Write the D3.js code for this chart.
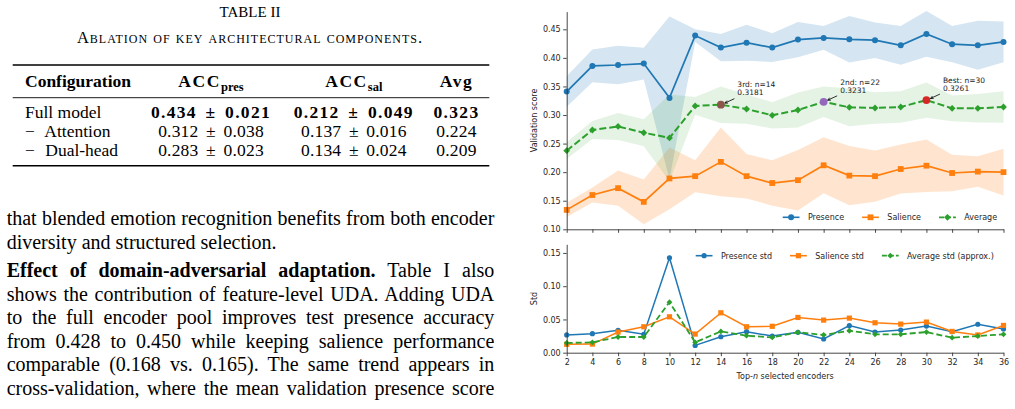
<!DOCTYPE html>
<html>
<head>
<meta charset="utf-8">
<script src="https://cdn.jsdelivr.net/npm/d3@7"></script>
<style>
  html, body { margin: 0; padding: 0; background: #fff; }
  svg { display: block; }
  text { white-space: pre; }
</style>
</head>
<body>
<svg id="page" width="1015" height="409"></svg>
<script>
// ---- figure data ----
const topN = [2, 4, 6, 8, 10, 12, 14, 16, 18, 20, 22, 24, 26, 28, 30, 32, 34, 36];
const presence = [0.341, 0.386, 0.3875, 0.390, 0.330, 0.439, 0.418, 0.4266, 0.418, 0.432, 0.435, 0.4325, 0.431, 0.422, 0.442, 0.424, 0.422, 0.428];
const salience = [0.134, 0.160, 0.172, 0.148, 0.189, 0.193, 0.218, 0.193, 0.181, 0.186, 0.212, 0.194, 0.193, 0.2055, 0.2113, 0.1985, 0.201, 0.200];
const average = [0.2376, 0.2738, 0.280, 0.269, 0.260, 0.316, 0.3181, 0.3105, 0.2995, 0.3088, 0.3231, 0.3135, 0.3123, 0.314, 0.3261, 0.3117, 0.3117, 0.314];
const presenceStd = [0.0267, 0.0286, 0.0337, 0.0277, 0.1426, 0.011, 0.024, 0.0316, 0.025, 0.0307, 0.0206, 0.0407, 0.031, 0.034, 0.040, 0.0316, 0.0428, 0.0357];
const salienceStd = [0.0126, 0.013, 0.031, 0.039, 0.054, 0.028, 0.060, 0.039, 0.0397, 0.053, 0.049, 0.052, 0.045, 0.043, 0.046, 0.032, 0.0267, 0.041];
const averageStd = [0.0146, 0.0156, 0.0236, 0.0236, 0.076, 0.0156, 0.032, 0.0256, 0.023, 0.0307, 0.0267, 0.033, 0.0277, 0.0277, 0.031, 0.0226, 0.025, 0.0277];
const highlightN = [30, 22, 14];
const highlightLabels = ['Best', '2nd', '3rd'];
const yTicksTop = [0.10, 0.15, 0.20, 0.25, 0.30, 0.35, 0.40, 0.45];
const yTicksBottom = [0.00, 0.05, 0.10, 0.15];

// ---- table II ----
const tableTitle = 'TABLE II';
const tableCaption = 'Ablation of key architectural components.';
const configs = ['Full model', '\u2212 Attention', '\u2212 Dual-head'];
const presMean = [0.434, 0.312, 0.283];
const presStd = [0.021, 0.038, 0.023];
const salMean = [0.212, 0.137, 0.134];
const salStd = [0.049, 0.016, 0.024];
const avgScore = [0.323, 0.224, 0.209];

// ---- body text, one entry per printed line ----
const bodyLines = [
  { segs: [['that blended emotion recognition benefits from both encoder', false]], justify: true },
  { segs: [['diversity and structured selection.', false]], justify: false },
  { segs: [['Effect of domain-adversarial adaptation.', true], [' Table I also', false]], justify: true, newPara: true },
  { segs: [['shows the contribution of feature-level UDA. Adding UDA', false]], justify: true },
  { segs: [['to the full encoder pool improves test presence accuracy', false]], justify: true },
  { segs: [['from 0.428 to 0.450 while keeping salience performance', false]], justify: true },
  { segs: [['comparable (0.168 vs. 0.165). The same trend appears in', false]], justify: true },
  { segs: [['cross-validation, where the mean validation presence score', false]], justify: true }
];

const svg = d3.select('#page');
const serif = 'Liberation Serif, Times New Roman, serif';
const sans = 'DejaVu Sans, sans-serif';

// ================= left column: table + text =================
svg.append('text').attr('x', 250).attr('y', 17.3).attr('text-anchor', 'middle')
  .attr('font-family', serif).attr('font-size', 15).text(tableTitle);
svg.append('text').attr('x', 250).attr('y', 43.3).attr('text-anchor', 'middle')
  .attr('font-family', serif).attr('font-size', 16.5).style('font-variant', 'small-caps')
  .attr('letter-spacing', 1.0).text(tableCaption);

const ruleX0 = 12.7, ruleX1 = 489.3;
[[65, 1.6], [97.7, 0.9], [165.7, 1.6]].forEach(([y, w]) => {
  svg.append('line').attr('x1', ruleX0).attr('x2', ruleX1).attr('y1', y).attr('y2', y)
    .attr('stroke', '#000').attr('stroke-width', w);
});

const colConfig = 25, colPres = 211, colSal = 353.8, colAvg = 456.5;
const headY = 87.3, rowY = [118.3, 136.9, 156];
const tfs = 17.5;

svg.append('text').attr('x', colConfig).attr('y', headY).attr('font-family', serif)
  .attr('font-size', tfs).attr('font-weight', 'bold').text('Configuration');

function accHeader(cx, sub) {
  const t = svg.append('text').attr('x', cx).attr('y', headY).attr('text-anchor', 'middle')
    .attr('font-family', serif).attr('font-weight', 'bold').attr('font-size', tfs);
  t.append('tspan').attr('letter-spacing', 1.6).text('ACC');
  t.append('tspan').attr('dy', 4).attr('font-size', 12.5).text(sub);
}
accHeader(colPres, 'pres');
accHeader(colSal, 'sal');
svg.append('text').attr('x', colAvg).attr('y', headY).attr('text-anchor', 'middle')
  .attr('font-family', serif).attr('font-weight', 'bold').attr('font-size', tfs)
  .attr('letter-spacing', 1.5).text('Avg');

configs.forEach((c, i) => {
  const bold = i === 0;
  svg.append('text').attr('x', colConfig).attr('y', rowY[i]).attr('font-family', serif)
    .attr('font-size', tfs).attr('word-spacing', c.startsWith('\u2212') ? 6 : 0).text(c);
  const cell = (cx, txt) => svg.append('text').attr('x', cx).attr('y', rowY[i])
    .attr('text-anchor', 'middle').attr('font-family', serif).attr('font-size', tfs)
    .attr('font-weight', bold ? 'bold' : null)
    .attr('letter-spacing', bold ? 1.3 : 0.2)
    .attr('word-spacing', 3).text(txt);
  cell(colPres, `${presMean[i].toFixed(3)} \u00b1 ${presStd[i].toFixed(3)}`);
  cell(colSal, `${salMean[i].toFixed(3)} \u00b1 ${salStd[i].toFixed(3)}`);
  cell(colAvg, avgScore[i].toFixed(3));
});

// body paragraph lines, justified by stretching inter-word spaces
const textX0 = 6.7, textX1 = 494.3;
let by = 225;
bodyLines.forEach((ln, i) => {
  if (i > 0) by += ln.newPara ? 28.6 : 23.5;
  const t = svg.append('text').attr('x', textX0).attr('y', by)
    .attr('font-family', serif).attr('font-size', 20).attr('fill', '#000');
  ln.segs.forEach(([s, b]) => t.append('tspan').attr('font-weight', b ? 'bold' : null).text(s));
  if (ln.justify) {
    const full = ln.segs.map(s => s[0]).join('');
    const nSpaces = (full.match(/ /g) || []).length;
    const w = t.node().getComputedTextLength();
    t.attr('word-spacing', (textX1 - textX0 - w) / nSpaces);
  }
});

// ================= right column: charts =================
const x = d3.scaleLinear().domain([2, 36]).range([566.7, 1003.5]);
const yTop = d3.scaleLinear().domain([0.10, 0.481]).range([229.3, 11.6]);
const yBot = d3.scaleLinear().domain([0, 0.163]).range([352.7, 244.3]);

const C = { blue: '#1f77b4', orange: '#ff7f0e', green: '#2ca02c' };
const hlColors = ['#d62728', '#9467bd', '#8c564b'];
const idx = d3.range(topN.length);

const series = [
  { name: 'Presence', mean: presence, std: presenceStd, color: C.blue, marker: 'circle', dash: null, band: 0.19 },
  { name: 'Salience', mean: salience, std: salienceStd, color: C.orange, marker: 'square', dash: null, band: 0.2 },
  { name: 'Average', mean: average, std: averageStd, color: C.green, marker: 'diamond', dash: '7,3', band: 0.13 }
];

function markerPath(kind, s) {
  if (kind === 'circle') return d3.symbol(d3.symbolCircle, Math.PI * s * s)();
  if (kind === 'square') return d3.symbol(d3.symbolSquare, 4 * s * s)();
  // matplotlib 'D': a square turned 45 degrees
  return `M0,${-s}L${s},0L0,${s}L${-s},0Z`;
}
const markerSize = { top: { circle: 3, square: 2.9, diamond: 3.4 }, bot: { circle: 2.6, square: 2.6, diamond: 2.9 } };

function styleAxis(g) {
  g.attr('font-family', null).attr('font-size', null);
  g.selectAll('path, line').attr('stroke', '#333').attr('stroke-width', 0.9);
  g.selectAll('text').attr('font-family', sans).attr('font-size', 8).attr('fill', '#262626');
}

const topG = svg.append('g');
const botG = svg.append('g');

// bands
series.forEach(s => {
  topG.append('path').datum(idx)
    .attr('d', d3.area().x(i => x(topN[i])).y0(i => yTop(s.mean[i] - s.std[i])).y1(i => yTop(s.mean[i] + s.std[i])))
    .attr('fill', s.color).attr('fill-opacity', s.band).attr('stroke', 'none');
});

// lines + markers (top)
series.forEach(s => {
  topG.append('path').datum(idx)
    .attr('d', d3.line().x(i => x(topN[i])).y(i => yTop(s.mean[i])))
    .attr('fill', 'none').attr('stroke', s.color).attr('stroke-width', s.dash ? 2 : 1.7)
    .attr('stroke-dasharray', s.dash);
  topG.selectAll(null).data(idx).join('path')
    .attr('transform', i => `translate(${x(topN[i])},${yTop(s.mean[i])})`)
    .attr('d', markerPath(s.marker, markerSize.top[s.marker]))
    .attr('fill', s.color);
});

// highlighted top configurations
highlightN.forEach((n, k) => {
  const i = topN.indexOf(n);
  const px = x(n), py = yTop(average[i]);
  topG.append('circle').attr('cx', px).attr('cy', py).attr('r', 3.9).attr('fill', hlColors[k]);
  const t = topG.append('text').attr('font-family', sans).attr('font-size', 7.5).attr('fill', '#222');
  t.append('tspan').attr('x', px + 16.5).attr('y', py - 17.3).text(`${highlightLabels[k]}: n=${n}`);
  t.append('tspan').attr('x', px + 16.5).attr('y', py - 9.3).text(average[i].toFixed(4));
  // arrow from label to point
  const x1 = px + 13.5, y1 = py - 6, x2 = px + 4, y2 = py - 1.6;
  const ang = Math.atan2(y2 - y1, x2 - x1), L = 3.2;
  topG.append('path')
    .attr('d', `M${x1},${y1}L${x2},${y2}M${x2 - L * Math.cos(ang - 0.45)},${y2 - L * Math.sin(ang - 0.45)}L${x2},${y2}L${x2 - L * Math.cos(ang + 0.45)},${y2 - L * Math.sin(ang + 0.45)}`)
    .attr('fill', 'none').attr('stroke', '#000').attr('stroke-width', 0.8);
});

// top axes
const topX = topG.append('g').attr('transform', `translate(0,${yTop(0.10)})`)
  .call(d3.axisBottom(x).tickValues(topN).tickFormat('').tickSize(3.5).tickSizeOuter(0));
styleAxis(topX);
const topY = topG.append('g').attr('transform', `translate(${x(2)},0)`)
  .call(d3.axisLeft(yTop).tickValues(yTicksTop).tickFormat(d3.format('.2f')).tickSize(3.5).tickPadding(2.5).tickSizeOuter(0));
styleAxis(topY);
svg.append('text').attr('transform', `translate(534.5,${(yTop.range()[0] + yTop.range()[1]) / 2}) rotate(-90)`)
  .attr('text-anchor', 'middle').attr('dy', '0.35em').attr('font-family', sans).attr('font-size', 8)
  .attr('fill', '#262626').text('Validation score');

// bottom chart: std curves
const stdSeries = [
  { name: 'Presence std', vals: presenceStd, color: C.blue, marker: 'circle', dash: null },
  { name: 'Salience std', vals: salienceStd, color: C.orange, marker: 'square', dash: null },
  { name: 'Average std (approx.)', vals: averageStd, color: C.green, marker: 'diamond', dash: '6,3' }
];
stdSeries.forEach(s => {
  botG.append('path').datum(idx)
    .attr('d', d3.line().x(i => x(topN[i])).y(i => yBot(s.vals[i])))
    .attr('fill', 'none').attr('stroke', s.color).attr('stroke-width', s.dash ? 1.8 : 1.5)
    .attr('stroke-dasharray', s.dash);
  botG.selectAll(null).data(idx).join('path')
    .attr('transform', i => `translate(${x(topN[i])},${yBot(s.vals[i])})`)
    .attr('d', markerPath(s.marker, markerSize.bot[s.marker]))
    .attr('fill', s.color);
});
const botX = botG.append('g').attr('transform', `translate(0,${yBot(0)})`)
  .call(d3.axisBottom(x).tickValues(topN).tickFormat(d3.format('d')).tickSize(3.5).tickPadding(3.3).tickSizeOuter(0));
styleAxis(botX);
const botY = botG.append('g').attr('transform', `translate(${x(2)},0)`)
  .call(d3.axisLeft(yBot).tickValues(yTicksBottom).tickFormat(d3.format('.2f')).tickSize(3.5).tickPadding(2.5).tickSizeOuter(0));
styleAxis(botY);
svg.append('text').attr('transform', `translate(534.5,${(yBot.range()[0] + yBot.range()[1]) / 2}) rotate(-90)`)
  .attr('text-anchor', 'middle').attr('dy', '0.35em').attr('font-family', sans).attr('font-size', 8)
  .attr('fill', '#262626').text('Std');
const xl = svg.append('text').attr('x', (x.range()[0] + x.range()[1]) / 2).attr('y', 378.5)
  .attr('text-anchor', 'middle').attr('font-family', sans).attr('font-size', 8).attr('fill', '#262626');
xl.append('tspan').text('Top-');
xl.append('tspan').attr('font-style', 'italic').text('n');
xl.append('tspan').text(' selected encoders');

// legends
function legend(g, items, x0, cy, msize) {
  let cx = x0;
  items.forEach(it => {
    g.append('line').attr('x1', cx).attr('x2', cx + 16.8).attr('y1', cy).attr('y2', cy)
      .attr('stroke', it.color).attr('stroke-width', it.dash ? 1.8 : 1.6).attr('stroke-dasharray', it.dash ? '5,2' : null);
    g.append('path').attr('transform', `translate(${cx + 8.4},${cy})`)
      .attr('d', markerPath(it.marker, msize[it.marker])).attr('fill', it.color);
    const t = g.append('text').attr('x', cx + 25.2).attr('y', cy).attr('dy', '0.36em')
      .attr('font-family', sans).attr('font-size', 8).attr('fill', '#262626').text(it.name);
    cx += 25.2 + t.node().getComputedTextLength() + 18;
  });
}
legend(topG, series, 782.7, 217.3, markerSize.top);
legend(botG, stdSeries, 695.7, 255.7, markerSize.bot);
</script>
</body>
</html>
